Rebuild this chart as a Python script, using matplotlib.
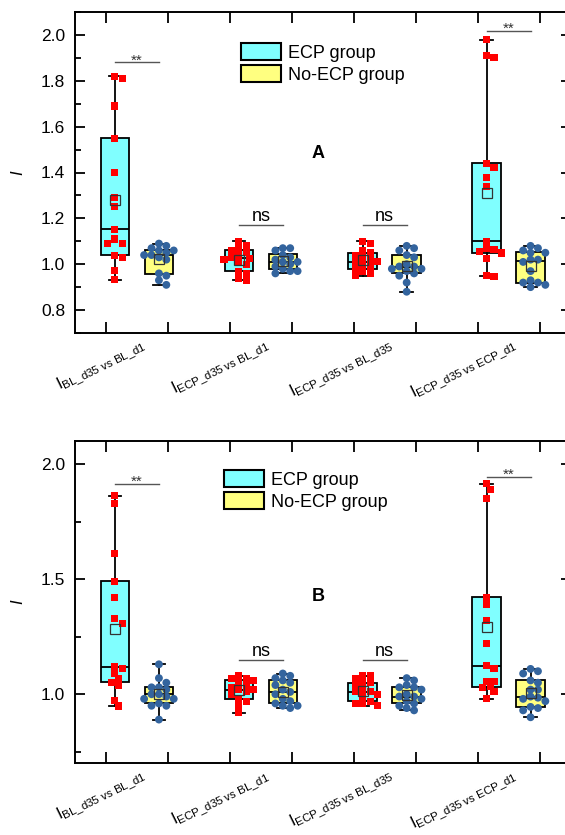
import numpy as np
import matplotlib
matplotlib.use('Agg')
import matplotlib.pyplot as plt
from matplotlib.patches import Patch
from matplotlib.ticker import MultipleLocator, FixedLocator
import matplotlib.transforms as mtransforms

plt.rcParams['font.family'] = ['Liberation Sans', 'DejaVu Sans']
plt.rcParams['mathtext.fontset'] = 'custom'
plt.rcParams['mathtext.rm'] = 'Liberation Sans'
plt.rcParams['mathtext.it'] = 'Liberation Sans:italic'
plt.rcParams['mathtext.bf'] = 'Liberation Sans:bold'

# ---------------- data ----------------
categories = [r'$\mathrm{I}_{\mathrm{BL\_d35\ vs\ BL\_d1}}$',
              r'$\mathrm{I}_{\mathrm{ECP\_d35\ vs\ BL\_d1}}$',
              r'$\mathrm{I}_{\mathrm{ECP\_d35\ vs\ BL\_d35}}$',
              r'$\mathrm{I}_{\mathrm{ECP\_d35\ vs\ ECP\_d1}}$']
group_names = ['ECP group', 'No-ECP group']

# Panel A
a_ecp_1 = [1.820, 1.809, 1.690, 1.550, 1.399, 1.289, 1.250, 1.152, 1.110, 1.091, 1.091, 1.039, 1.030, 0.972, 0.933]
a_ecp_2 = [1.10, 1.08, 1.07, 1.06, 1.05, 1.04, 1.03, 1.025, 1.02, 1.01, 1.00, 0.97, 0.96, 0.94, 0.93]
a_ecp_3 = [1.10, 1.09, 1.06, 1.05, 1.04, 1.03, 1.02, 1.01, 1.01, 1.00, 0.99, 0.98, 0.97, 0.96, 0.95]
a_ecp_4 = [1.98, 1.91, 1.90, 1.44, 1.42, 1.38, 1.34, 1.10, 1.07, 1.066, 1.056, 1.049, 1.023, 0.951, 0.948]
a_no_1 = [1.09, 1.08, 1.07, 1.06, 1.06, 1.05, 1.04, 1.04, 1.03, 1.02, 0.96, 0.95, 0.93, 0.91]
a_no_2 = [1.07, 1.07, 1.06, 1.04, 1.03, 1.02, 1.01, 1.01, 1.00, 0.99, 0.98, 0.97, 0.97, 0.96]
a_no_3 = [1.08, 1.07, 1.06, 1.04, 1.03, 1.00, 0.99, 0.99, 0.98, 0.98, 0.97, 0.96, 0.95, 0.92, 0.88]
a_no_4 = [1.08, 1.07, 1.06, 1.05, 1.05, 1.02, 1.02, 1.01, 0.97, 0.93, 0.92, 0.92, 0.91, 0.90]

# Panel B
b_ecp_1 = [1.862, 1.830, 1.610, 1.491, 1.422, 1.329, 1.309, 1.120, 1.110, 1.091, 1.070, 1.052, 1.039, 0.972, 0.949]
b_ecp_2 = [1.08, 1.07, 1.07, 1.06, 1.05, 1.04, 1.03, 1.02, 1.02, 1.01, 1.00, 0.98, 0.97, 0.95, 0.92]
b_ecp_3 = [1.08, 1.08, 1.07, 1.05, 1.05, 1.04, 1.02, 1.01, 1.01, 1.00, 0.99, 0.97, 0.96, 0.96, 0.95]
b_ecp_4 = [1.914, 1.891, 1.852, 1.422, 1.391, 1.320, 1.222, 1.124, 1.110, 1.055, 1.055, 1.033, 1.030, 1.011, 0.981]
b_no_1 = [1.13, 1.07, 1.05, 1.03, 1.03, 1.02, 1.00, 1.00, 0.99, 0.98, 0.98, 0.96, 0.95, 0.95, 0.89]
b_no_2 = [1.09, 1.08, 1.07, 1.06, 1.05, 1.04, 1.02, 1.01, 1.00, 0.98, 0.97, 0.96, 0.95, 0.95, 0.94]
b_no_3 = [1.07, 1.06, 1.04, 1.03, 1.03, 1.02, 1.00, 0.99, 0.99, 0.98, 0.97, 0.96, 0.95, 0.94, 0.93]
b_no_4 = [1.11, 1.10, 1.09, 1.06, 1.05, 1.02, 1.02, 0.99, 0.985, 0.98, 0.97, 0.945, 0.94, 0.93, 0.90]

sig_labels = ['**', 'ns', 'ns', '**']
sig_heights_a = [1.881, 1.171, 1.171, 2.019]
sig_heights_b = [1.913, 1.149, 1.149, 1.943]

panel_a = dict(ecp=[a_ecp_1, a_ecp_2, a_ecp_3, a_ecp_4], no=[a_no_1, a_no_2, a_no_3, a_no_4],
               sig=sig_heights_a, letter='A', letter_y=1.485,
               major=0.2, minor=0.1, leg=(241, 43))
panel_b = dict(ecp=[b_ecp_1, b_ecp_2, b_ecp_3, b_ecp_4], no=[b_no_1, b_no_2, b_no_3, b_no_4],
               sig=sig_heights_b, letter='B', letter_y=1.425,
               major=0.5, minor=0.25, leg=(224, 470))

# ---------------- style ----------------
CYAN = '#80FFFF'
YELLOW = '#FFFF80'
RED = '#FF0000'
BLUE = '#33649E'
W, H = 565, 835
fig = plt.figure(figsize=(W / 100, H / 100), dpi=100)

def px_box(l, t, r, b):
    return [l / W, 1 - b / H, (r - l) / W, (b - t) / H]

def stats(vals):
    v = np.asarray(vals, float)
    q1, med, q3 = np.percentile(v, [25, 50, 75], method='weibull')
    return dict(med=med, q1=q1, q3=q3, whislo=v.min(), whishi=v.max(),
                mean=v.mean(), fliers=[])

def swarm(ax, x0, vals, size_px=6.0, step_px=3.7):
    tr = ax.transData
    placed = []
    xs = []
    order = [0]
    for k in range(1, 12):
        order += [k, -k]
    for v in vals:
        x0px, ypx = tr.transform((x0, v))
        for k in order:
            xpx = x0px + k * step_px
            if all((xpx - a) ** 2 + (ypx - b) ** 2 >= size_px ** 2 for a, b in placed):
                break
        placed.append((xpx, ypx))
        xs.append(tr.inverted().transform((xpx, ypx))[0])
    return xs

def draw_panel(rect, p):
    ax = fig.add_axes(rect)
    ax.set_xlim(0.5, 8.5)
    ax.set_ylim(0.7, 2.1)
    centers = [1.5 + 2 * g for g in range(4)]
    off = 0.355
    for g, c in enumerate(centers):
        for vals, pos, fc, mk, col, sz in ((p['ecp'][g], c - off, CYAN, 's', RED, 26),
                                          (p['no'][g], c + off, YELLOW, 'o', BLUE, 32)):
            ax.bxp([stats(vals)], positions=[pos], widths=0.46, patch_artist=True,
                   showmeans=True, showfliers=False, manage_ticks=False, capwidths=0.2,
                   boxprops=dict(facecolor=fc, edgecolor='black', linewidth=1.3),
                   whiskerprops=dict(color='black', linewidth=1.3),
                   capprops=dict(color='black', linewidth=1.3),
                   medianprops=dict(color='black', linewidth=1.3),
                   meanprops=dict(marker='s', markerfacecolor='none', markeredgecolor='#333333',
                                  markeredgewidth=0.9, markersize=6.5, zorder=5),
                   zorder=2)
            xs = swarm(ax, pos, vals)
            ax.scatter(xs, vals, marker=mk, s=sz, color=col, edgecolors='none', zorder=4)
        # significance
        h = p['sig'][g]
        ax.plot([c - off, c + off], [h, h], color='#555555', lw=1.0, zorder=3)
        lab = sig_labels[g]
        if lab == 'ns':
            ax.annotate(lab, (c, h), xytext=(0, 3), textcoords='offset points',
                        ha='center', va='baseline', fontsize=13, color='black')
        else:
            ax.annotate(lab, (c, h), xytext=(0, -1.5), textcoords='offset points',
                        ha='center', va='baseline', fontsize=11, color='#333333')
    ax.text(4.43, p['letter_y'], p['letter'], fontsize=13, fontweight='bold',
            ha='center', va='center')
    # axes styling
    for s in ax.spines.values():
        s.set_linewidth(1.4)
    ax.yaxis.set_major_locator(MultipleLocator(p['major']))
    ax.yaxis.set_minor_locator(MultipleLocator(p['minor']))
    ax.yaxis.set_major_formatter(matplotlib.ticker.FormatStrFormatter('%.1f'))
    ax.set_xticks(centers)
    ax.set_xticklabels(categories)
    ax.xaxis.set_minor_locator(FixedLocator(list(range(1, 9))))
    ax.tick_params(axis='both', which='both', direction='in', top=True, right=True,
                   labeltop=False, labelright=False, width=1.3)
    ax.tick_params(axis='y', which='major', length=7, labelsize=12.5, pad=7)
    ax.tick_params(axis='y', which='minor', length=4)
    ax.tick_params(axis='x', which='minor', length=8)
    ax.tick_params(axis='x', which='major', length=0, labelsize=11.8, pad=1.5)
    shift = mtransforms.ScaledTranslation(3 / 100, 0, fig.dpi_scale_trans)
    for lb in ax.get_xticklabels():
        lb.set_rotation(26)
        lb.set_ha('right')
        lb.set_va('top')
        lb.set_rotation_mode('anchor')
        lb.set_transform(lb.get_transform() + shift)
    ax.set_ylabel('I', fontstyle='italic', fontsize=12)
    ax.yaxis.set_label_coords(-0.10, 0.5)
    handles = [Patch(facecolor=CYAN, edgecolor='black', linewidth=1.5),
               Patch(facecolor=YELLOW, edgecolor='black', linewidth=1.5)]
    lx, ly = p['leg']
    ax.legend(handles, group_names, loc='upper left',
              bbox_to_anchor=(lx / W, 1 - ly / H), bbox_transform=fig.transFigure,
              frameon=False, fontsize=13, handlelength=2.2, handleheight=1.05,
              handletextpad=0.4, labelspacing=0.2, borderpad=0, borderaxespad=0)
    return ax

axA = draw_panel(px_box(75, 12, 570.5, 333), panel_a)
axB = draw_panel(px_box(75, 441, 570.5, 763.3), panel_b)

fig.savefig('out.png', dpi=100, facecolor='white')
